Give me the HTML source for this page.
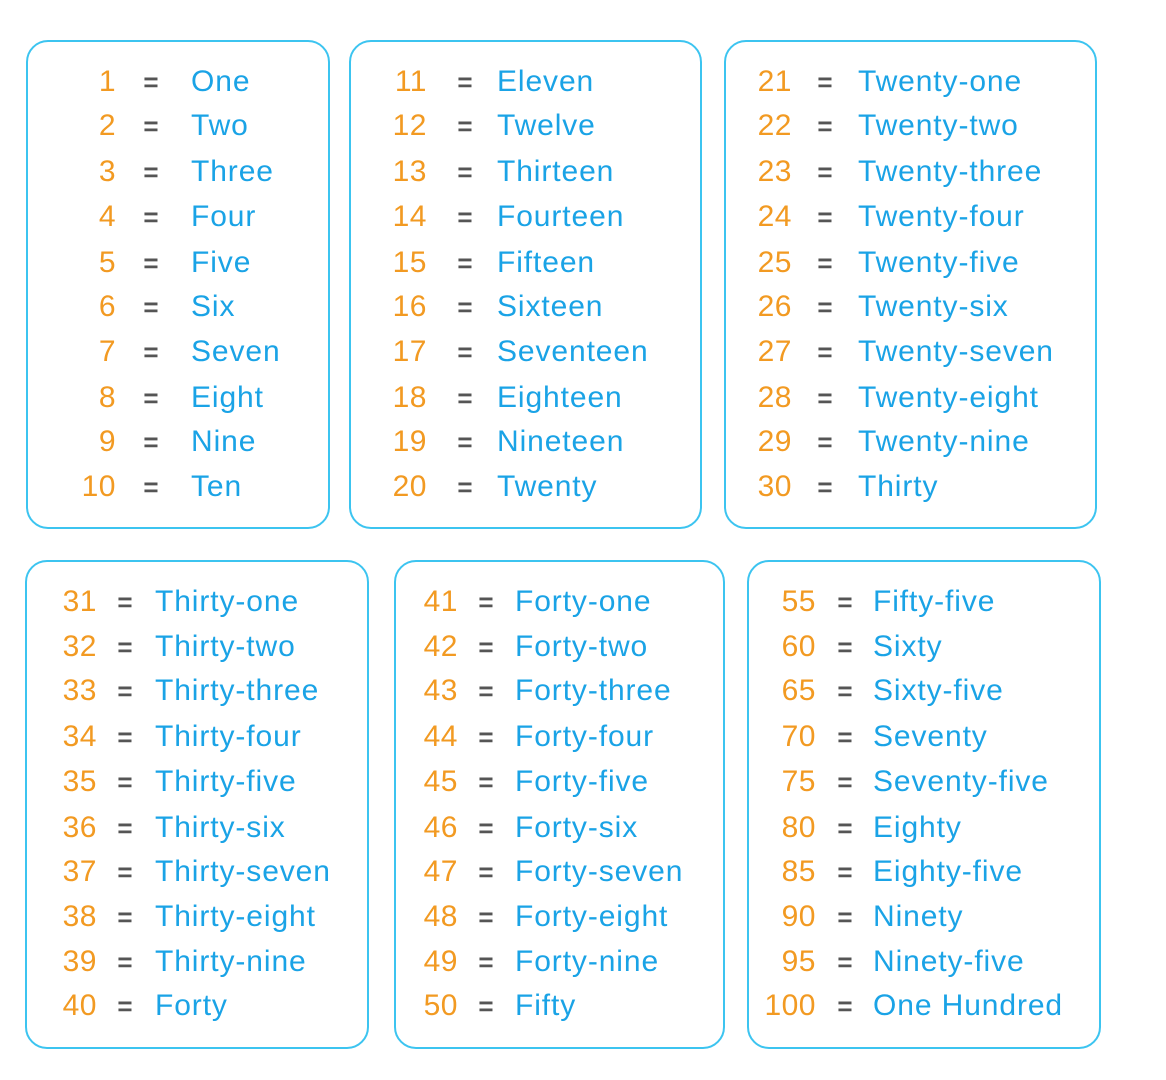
<!DOCTYPE html>
<html><head><meta charset="utf-8"><style>
body{margin:0;width:1166px;height:1080px;background:#fff;position:relative;overflow:hidden;font-family:"Liberation Sans","DejaVu Sans",sans-serif;}
.box{position:absolute;border:2.5px solid #3cc4f0;border-radius:22px;box-sizing:border-box;}
.r{position:absolute;height:34px;line-height:34px;font-size:30px;white-space:nowrap;}
.n{position:absolute;color:#f29a22;text-align:right;width:70px;margin-left:-10px;letter-spacing:0.5px;}
.e{position:absolute;color:#555;font-weight:bold;width:24px;text-align:center;font-size:26px;}
.w{position:absolute;color:#1aa3e6;letter-spacing:0.9px;}
</style></head><body>
<div class="box" style="left:26px;top:40px;width:304px;height:489px"></div>
<div class="box" style="left:349px;top:40px;width:353px;height:489px"></div>
<div class="box" style="left:724px;top:40px;width:373px;height:489px"></div>
<div class="box" style="left:25px;top:560px;width:344px;height:489px"></div>
<div class="box" style="left:394px;top:560px;width:331px;height:489px"></div>
<div class="box" style="left:747px;top:560px;width:354px;height:489px"></div>

<!-- col1 -->
<div class="r" style="top:65px"><span class="n" style="left:56px">1</span><span class="e" style="left:139px">=</span><span class="w" style="left:191px">One</span></div>
<div class="r" style="top:109px"><span class="n" style="left:56px">2</span><span class="e" style="left:139px">=</span><span class="w" style="left:191px">Two</span></div>
<div class="r" style="top:155px"><span class="n" style="left:56px">3</span><span class="e" style="left:139px">=</span><span class="w" style="left:191px">Three</span></div>
<div class="r" style="top:200px"><span class="n" style="left:56px">4</span><span class="e" style="left:139px">=</span><span class="w" style="left:191px">Four</span></div>
<div class="r" style="top:246px"><span class="n" style="left:56px">5</span><span class="e" style="left:139px">=</span><span class="w" style="left:191px">Five</span></div>
<div class="r" style="top:290px"><span class="n" style="left:56px">6</span><span class="e" style="left:139px">=</span><span class="w" style="left:191px">Six</span></div>
<div class="r" style="top:335px"><span class="n" style="left:56px">7</span><span class="e" style="left:139px">=</span><span class="w" style="left:191px">Seven</span></div>
<div class="r" style="top:381px"><span class="n" style="left:56px">8</span><span class="e" style="left:139px">=</span><span class="w" style="left:191px">Eight</span></div>
<div class="r" style="top:425px"><span class="n" style="left:56px">9</span><span class="e" style="left:139px">=</span><span class="w" style="left:191px">Nine</span></div>
<div class="r" style="top:470px"><span class="n" style="left:56px">10</span><span class="e" style="left:139px">=</span><span class="w" style="left:191px">Ten</span></div>

<!-- col2 -->
<div class="r" style="top:65px"><span class="n" style="left:367px">11</span><span class="e" style="left:453px">=</span><span class="w" style="left:497px">Eleven</span></div>
<div class="r" style="top:109px"><span class="n" style="left:367px">12</span><span class="e" style="left:453px">=</span><span class="w" style="left:497px">Twelve</span></div>
<div class="r" style="top:155px"><span class="n" style="left:367px">13</span><span class="e" style="left:453px">=</span><span class="w" style="left:497px">Thirteen</span></div>
<div class="r" style="top:200px"><span class="n" style="left:367px">14</span><span class="e" style="left:453px">=</span><span class="w" style="left:497px">Fourteen</span></div>
<div class="r" style="top:246px"><span class="n" style="left:367px">15</span><span class="e" style="left:453px">=</span><span class="w" style="left:497px">Fifteen</span></div>
<div class="r" style="top:290px"><span class="n" style="left:367px">16</span><span class="e" style="left:453px">=</span><span class="w" style="left:497px">Sixteen</span></div>
<div class="r" style="top:335px"><span class="n" style="left:367px">17</span><span class="e" style="left:453px">=</span><span class="w" style="left:497px">Seventeen</span></div>
<div class="r" style="top:381px"><span class="n" style="left:367px">18</span><span class="e" style="left:453px">=</span><span class="w" style="left:497px">Eighteen</span></div>
<div class="r" style="top:425px"><span class="n" style="left:367px">19</span><span class="e" style="left:453px">=</span><span class="w" style="left:497px">Nineteen</span></div>
<div class="r" style="top:470px"><span class="n" style="left:367px">20</span><span class="e" style="left:453px">=</span><span class="w" style="left:497px">Twenty</span></div>

<!-- col3 -->
<div class="r" style="top:65px"><span class="n" style="left:732px">21</span><span class="e" style="left:813px">=</span><span class="w" style="left:858px">Twenty-one</span></div>
<div class="r" style="top:109px"><span class="n" style="left:732px">22</span><span class="e" style="left:813px">=</span><span class="w" style="left:858px">Twenty-two</span></div>
<div class="r" style="top:155px"><span class="n" style="left:732px">23</span><span class="e" style="left:813px">=</span><span class="w" style="left:858px">Twenty-three</span></div>
<div class="r" style="top:200px"><span class="n" style="left:732px">24</span><span class="e" style="left:813px">=</span><span class="w" style="left:858px">Twenty-four</span></div>
<div class="r" style="top:246px"><span class="n" style="left:732px">25</span><span class="e" style="left:813px">=</span><span class="w" style="left:858px">Twenty-five</span></div>
<div class="r" style="top:290px"><span class="n" style="left:732px">26</span><span class="e" style="left:813px">=</span><span class="w" style="left:858px">Twenty-six</span></div>
<div class="r" style="top:335px"><span class="n" style="left:732px">27</span><span class="e" style="left:813px">=</span><span class="w" style="left:858px">Twenty-seven</span></div>
<div class="r" style="top:381px"><span class="n" style="left:732px">28</span><span class="e" style="left:813px">=</span><span class="w" style="left:858px">Twenty-eight</span></div>
<div class="r" style="top:425px"><span class="n" style="left:732px">29</span><span class="e" style="left:813px">=</span><span class="w" style="left:858px">Twenty-nine</span></div>
<div class="r" style="top:470px"><span class="n" style="left:732px">30</span><span class="e" style="left:813px">=</span><span class="w" style="left:858px">Thirty</span></div>

<!-- col4 -->
<div class="r" style="top:585px"><span class="n" style="left:37px">31</span><span class="e" style="left:113px">=</span><span class="w" style="left:155px">Thirty-one</span></div>
<div class="r" style="top:630px"><span class="n" style="left:37px">32</span><span class="e" style="left:113px">=</span><span class="w" style="left:155px">Thirty-two</span></div>
<div class="r" style="top:674px"><span class="n" style="left:37px">33</span><span class="e" style="left:113px">=</span><span class="w" style="left:155px">Thirty-three</span></div>
<div class="r" style="top:720px"><span class="n" style="left:37px">34</span><span class="e" style="left:113px">=</span><span class="w" style="left:155px">Thirty-four</span></div>
<div class="r" style="top:765px"><span class="n" style="left:37px">35</span><span class="e" style="left:113px">=</span><span class="w" style="left:155px">Thirty-five</span></div>
<div class="r" style="top:811px"><span class="n" style="left:37px">36</span><span class="e" style="left:113px">=</span><span class="w" style="left:155px">Thirty-six</span></div>
<div class="r" style="top:855px"><span class="n" style="left:37px">37</span><span class="e" style="left:113px">=</span><span class="w" style="left:155px">Thirty-seven</span></div>
<div class="r" style="top:900px"><span class="n" style="left:37px">38</span><span class="e" style="left:113px">=</span><span class="w" style="left:155px">Thirty-eight</span></div>
<div class="r" style="top:945px"><span class="n" style="left:37px">39</span><span class="e" style="left:113px">=</span><span class="w" style="left:155px">Thirty-nine</span></div>
<div class="r" style="top:989px"><span class="n" style="left:37px">40</span><span class="e" style="left:113px">=</span><span class="w" style="left:155px">Forty</span></div>

<!-- col5 -->
<div class="r" style="top:585px"><span class="n" style="left:398px">41</span><span class="e" style="left:474px">=</span><span class="w" style="left:515px">Forty-one</span></div>
<div class="r" style="top:630px"><span class="n" style="left:398px">42</span><span class="e" style="left:474px">=</span><span class="w" style="left:515px">Forty-two</span></div>
<div class="r" style="top:674px"><span class="n" style="left:398px">43</span><span class="e" style="left:474px">=</span><span class="w" style="left:515px">Forty-three</span></div>
<div class="r" style="top:720px"><span class="n" style="left:398px">44</span><span class="e" style="left:474px">=</span><span class="w" style="left:515px">Forty-four</span></div>
<div class="r" style="top:765px"><span class="n" style="left:398px">45</span><span class="e" style="left:474px">=</span><span class="w" style="left:515px">Forty-five</span></div>
<div class="r" style="top:811px"><span class="n" style="left:398px">46</span><span class="e" style="left:474px">=</span><span class="w" style="left:515px">Forty-six</span></div>
<div class="r" style="top:855px"><span class="n" style="left:398px">47</span><span class="e" style="left:474px">=</span><span class="w" style="left:515px">Forty-seven</span></div>
<div class="r" style="top:900px"><span class="n" style="left:398px">48</span><span class="e" style="left:474px">=</span><span class="w" style="left:515px">Forty-eight</span></div>
<div class="r" style="top:945px"><span class="n" style="left:398px">49</span><span class="e" style="left:474px">=</span><span class="w" style="left:515px">Forty-nine</span></div>
<div class="r" style="top:989px"><span class="n" style="left:398px">50</span><span class="e" style="left:474px">=</span><span class="w" style="left:515px">Fifty</span></div>

<!-- col6 -->
<div class="r" style="top:585px"><span class="n" style="left:756px">55</span><span class="e" style="left:833px">=</span><span class="w" style="left:873px">Fifty-five</span></div>
<div class="r" style="top:630px"><span class="n" style="left:756px">60</span><span class="e" style="left:833px">=</span><span class="w" style="left:873px">Sixty</span></div>
<div class="r" style="top:674px"><span class="n" style="left:756px">65</span><span class="e" style="left:833px">=</span><span class="w" style="left:873px">Sixty-five</span></div>
<div class="r" style="top:720px"><span class="n" style="left:756px">70</span><span class="e" style="left:833px">=</span><span class="w" style="left:873px">Seventy</span></div>
<div class="r" style="top:765px"><span class="n" style="left:756px">75</span><span class="e" style="left:833px">=</span><span class="w" style="left:873px">Seventy-five</span></div>
<div class="r" style="top:811px"><span class="n" style="left:756px">80</span><span class="e" style="left:833px">=</span><span class="w" style="left:873px">Eighty</span></div>
<div class="r" style="top:855px"><span class="n" style="left:756px">85</span><span class="e" style="left:833px">=</span><span class="w" style="left:873px">Eighty-five</span></div>
<div class="r" style="top:900px"><span class="n" style="left:756px">90</span><span class="e" style="left:833px">=</span><span class="w" style="left:873px">Ninety</span></div>
<div class="r" style="top:945px"><span class="n" style="left:756px">95</span><span class="e" style="left:833px">=</span><span class="w" style="left:873px">Ninety-five</span></div>
<div class="r" style="top:989px"><span class="n" style="left:756px">100</span><span class="e" style="left:833px">=</span><span class="w" style="left:873px">One Hundred</span></div>
</body></html>
